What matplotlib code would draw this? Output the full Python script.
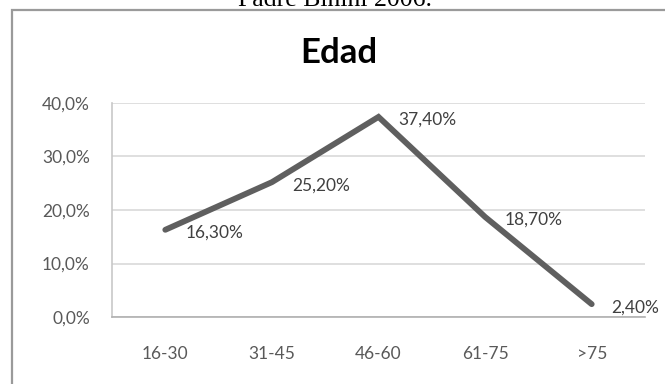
import matplotlib
matplotlib.use("Agg")
import matplotlib.pyplot as plt
from matplotlib.patches import Rectangle
from matplotlib.ticker import FuncFormatter

W, H = 665, 384
DPI = 100

# age groups and share of respondents (%)
categories = ["16-30", "31-45", "46-60", "61-75", ">75"]
values = [16.3, 25.2, 37.4, 18.7, 2.4]
y_ticks = [0, 10, 20, 30, 40]

LINE_COLOR = "#5f5f5f"
TICK_COLOR = "#595959"
LABEL_COLOR = "#404040"
GRID_COLOR = "#d9d9d9"

plt.rcParams["font.family"] = ["Lato", "DejaVu Sans"]

fig = plt.figure(figsize=(W / DPI, H / DPI), dpi=DPI)
fig.patch.set_facecolor("white")

def px(x, y):
    # pixel coords (from top-left) -> figure fraction
    return x / W, 1 - y / H

# caption line from the page above the chart, clipped by the top edge
cx, cy = px(335, 6)
fig.text(cx, cy, "Padre Binini 2006.", family="Liberation Serif", fontsize=18.5,
         ha="center", va="baseline", color="black")

# chart frame, runs off the right and bottom edges
fx, fy = px(11.5, 10.5)
fig.add_artist(Rectangle((fx, -0.1), 1.2, fy + 0.1, transform=fig.transFigure,
                         fill=False, edgecolor="#9a9a9a", linewidth=1.6))

# plot area
left, top = px(112, 103)
right, bottom = px(645, 317)
ax = fig.add_axes([left, bottom, right - left, top - bottom])

x = list(range(len(categories)))
ax.plot(x, values, color=LINE_COLOR, linewidth=4.2,
        solid_capstyle="round", solid_joinstyle="miter", zorder=3)

for xi, v in zip(x, values):
    ax.annotate(f"{v:.2f}".replace(".", ",") + "%", (xi, v),
                xytext=(20, -3), textcoords="offset pixels",
                ha="left", va="center", fontsize=12.5, color=LABEL_COLOR,
                zorder=4, annotation_clip=False)

ax.set_xlim(-0.5, len(categories) - 0.5)
ax.set_ylim(0, 40)
ax.set_xticks(x)
ax.set_xticklabels(categories)
ax.set_yticks(y_ticks)
ax.yaxis.set_major_formatter(FuncFormatter(lambda v, _: f"{v:.1f}".replace(".", ",") + "%"))

ax.tick_params(axis="both", length=0, labelsize=12.5, labelcolor=TICK_COLOR)
ax.tick_params(axis="y", pad=16)
ax.tick_params(axis="x", pad=21)

ax.grid(axis="y", color=GRID_COLOR, linewidth=1.2)
ax.set_axisbelow(True)
for side in ("top", "right"):
    ax.spines[side].set_visible(False)
ax.spines["left"].set_color("#c8c8c8")
ax.spines["bottom"].set_color("#b0b0b0")
ax.spines["left"].set_linewidth(1.2)
ax.spines["bottom"].set_linewidth(1.2)

tx, ty = px(339, 53)
fig.text(tx, ty, "Edad", fontsize=25, fontweight="bold", ha="center", va="center",
         color="black")

fig.savefig("out.png", dpi=DPI, facecolor="white")
